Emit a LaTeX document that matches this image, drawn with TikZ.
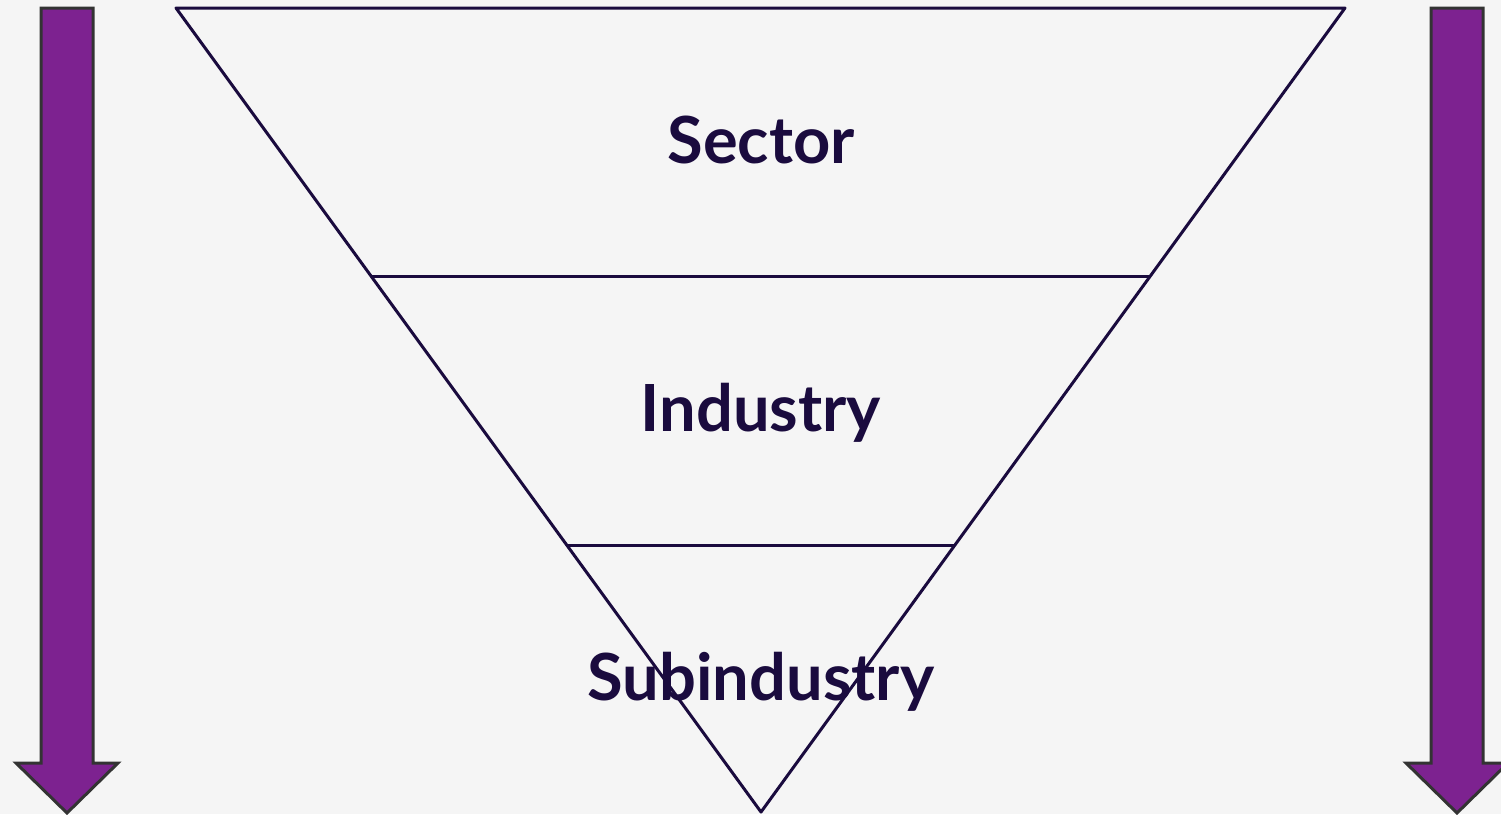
\documentclass[tikz,border=0pt]{standalone}
\usepackage{fontspec}
\setmainfont{Lato}
\definecolor{bg}{HTML}{F5F5F5}
\definecolor{navy}{HTML}{1A0B3E}
\definecolor{purp}{HTML}{7D2290}
\definecolor{edge}{HTML}{333333}
\begin{document}
\begin{tikzpicture}[x=1pt,y=-1pt,
  level/.style={draw=navy,line width=3pt,line join=round},
  lbl/.style={text=navy,font=\fontsize{65}{65}\selectfont\bfseries,inner sep=0pt},
  bigarrow/.style={fill=purp,draw=edge,line width=3pt,line join=miter}]
\path[fill=bg] (0,0) rectangle (1501,814);
\useasboundingbox (0,0) rectangle (1501,814);
% triangle
\coordinate (tl) at (176,8);
\coordinate (tr) at (1345,8);
\coordinate (ap) at (761,812);
\coordinate (l1) at (371,276);
\coordinate (r1) at (1150,276);
\coordinate (l2) at (566,545);
\coordinate (r2) at (955,545);
\draw[level] (tl) -- (tr) -- (ap) -- cycle;
\draw[level] (l1) -- (r1);
\draw[level] (l2) -- (r2);
% labels
\node[lbl,anchor=base] (sector) at (761,163) {Sector};
\node[lbl,anchor=base] (industry) at (761,431) {Industry};
\node[lbl,anchor=base] (sub) at (761,700) {Subindustry};
% arrows
\draw[bigarrow] (41,8) -- (93,8) -- (93,763) -- (118,763) -- (67,813) -- (16,763) -- (41,763) -- cycle;
\draw[bigarrow] (1431,8) -- (1483,8) -- (1483,763) -- (1508,763) -- (1457,813) -- (1406,763) -- (1431,763) -- cycle;
\end{tikzpicture}
\end{document}
